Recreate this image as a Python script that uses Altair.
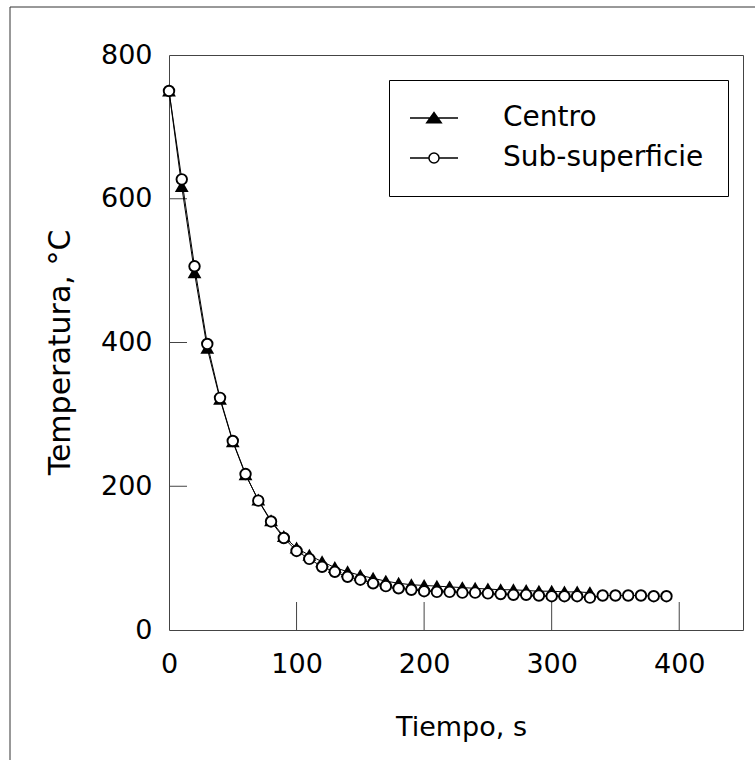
import altair as alt
import pandas as pd

# ---------------- data ----------------
t_sub = list(range(0, 400, 10))
sub_vals = [750, 627, 506, 398, 323, 263, 217, 180, 151, 128, 110, 99, 88, 81,
            74, 70, 65, 61, 58, 56, 54, 53, 53, 52, 52, 51, 50, 49, 49, 48,
            47, 47, 47, 45, 48, 48, 48, 48, 47, 47]
t_cen = list(range(0, 340, 10))
cen_vals = [750, 617, 497, 392, 321, 262, 216, 181, 152, 130, 114, 104, 95, 87,
            81, 76, 72, 68, 65, 63, 62, 61, 60, 59, 58, 57, 56, 56, 55, 54,
            54, 53, 53, 52]
series = ["Centro", "Sub-superficie"]
x_ticks = [0, 100, 200, 300, 400]
y_ticks = [0, 200, 400, 600, 800]
x_inner_ticks = [100, 200, 300, 400]
y_inner_ticks = [200, 400, 600]

df = pd.concat([
    pd.DataFrame({"t": t_cen, "T": cen_vals, "serie": series[0]}),
    pd.DataFrame({"t": t_sub, "T": sub_vals, "serie": series[1]}),
], ignore_index=True)

W, H = 574, 575
FONT = "DejaVu Sans"
AX = "#444444"

xs = alt.Scale(domain=[0, 450], nice=False, zero=False)
ys = alt.Scale(domain=[0, 800], nice=False, zero=False)

tri_path = "M-2,0L2,0M-0.6,0.4L0,-0.45L0.6,0.4Z"
cir_path = ("M-2,0L-0.42,0M0.42,0L2,0M-0.42,0A0.42,0.42,0,1,0,0.42,0"
            "A0.42,0.42,0,1,0,-0.42,0Z")

legend = alt.Legend(
    orient="none", legendX=220, legendY=25, padding=24,
    strokeColor="black", fillColor="white",
    labelFont=FONT, labelFontSize=28, labelColor="black", labelLimit=0,
    symbolSize=576, symbolOffset=7, labelOffset=55, rowPadding=12,
    symbolStrokeWidth=1.5,
)

xenc = alt.X("t:Q", scale=xs, axis=alt.Axis(
    values=x_ticks, title="Tiempo, s", grid=False, domain=False, ticks=False,
    tickSize=0, labelPadding=21, labelFlush=False, labelFont=FONT,
    labelFontSize=27, labelColor="black", labelFontWeight="normal",
    titleFont=FONT, titleFontSize=27, titleFontWeight="normal",
    titleColor="black", titleY=105, titleX=292, titleBaseline="alphabetic"))
yenc = alt.Y("T:Q", scale=ys, axis=alt.Axis(
    values=y_ticks, title="Temperatura, °C", grid=False, domain=False,
    ticks=False, tickSize=0, labelPadding=17, labelFlush=False, labelFont=FONT,
    labelFontSize=27, labelColor="black",
    titleFont=FONT, titleFontSize=30, titleFontWeight="normal",
    titleColor="black", titleX=-100, titleY=297, titleBaseline="alphabetic"))

lines = alt.Chart(df).mark_line(color="black", strokeWidth=1).encode(
    x=xenc, y=yenc, detail="serie:N", order="t:Q")

points = alt.Chart(df).mark_point(
    filled=True, stroke="black", strokeWidth=1.9, size=110, opacity=1
).encode(
    x=alt.X("t:Q", scale=xs),
    y=alt.Y("T:Q", scale=ys),
    shape=alt.Shape("serie:N", legend=None,
                    scale=alt.Scale(domain=series, range=["triangle-up", "circle"])),
    fill=alt.Fill("serie:N", legend=None,
                  scale=alt.Scale(domain=series, range=["black", "white"])),
)

# legend-only layer (no rows drawn): composite line+marker symbols
leg = alt.Chart(df).transform_filter("false").mark_point(
    filled=True, strokeWidth=1.5, opacity=1
).encode(
    x=alt.X("t:Q", scale=xs),
    y=alt.Y("T:Q", scale=ys),
    shape=alt.Shape("serie:N", title=None, legend=legend,
                    scale=alt.Scale(domain=series, range=[tri_path, cir_path])),
    fill=alt.Fill("serie:N", title=None, legend=legend,
                  scale=alt.Scale(domain=series, range=["black", "white"])),
    stroke=alt.Stroke("serie:N", title=None, legend=legend,
                      scale=alt.Scale(domain=series, range=["black", "black"])),
)

xt = alt.Chart(pd.DataFrame({"v": x_inner_ticks})).mark_rule(
    color=AX, strokeWidth=1).encode(
    x=alt.X("v:Q", scale=xs), y=alt.value(H), y2=alt.value(H - 28))
yt = alt.Chart(pd.DataFrame({"v": y_inner_ticks})).mark_rule(
    color=AX, strokeWidth=1).encode(
    y=alt.Y("v:Q", scale=ys), x=alt.value(0), x2=alt.value(18))

# outer figure frame (left and top edges)
frame_l = alt.Chart(pd.DataFrame({"a": [0]})).mark_rule(
    color="#333333", strokeWidth=1).encode(
    x=alt.value(-159), y=alt.value(-48), y2=alt.value(705))
frame_t = alt.Chart(pd.DataFrame({"a": [0]})).mark_rule(
    color="#333333", strokeWidth=1).encode(
    x=alt.value(-159), x2=alt.value(586), y=alt.value(-48))

chart = alt.layer(xt, yt, lines, points, leg, frame_l, frame_t).resolve_scale(
    shape="independent", fill="independent", stroke="independent"
).properties(
    width=W, height=H,
    autosize=alt.AutoSizeParams(type="none"),
    padding={"left": 169, "top": 55, "right": 12, "bottom": 130},
    background="white",
).configure_view(stroke=AX, strokeWidth=1)

chart.save("out.html", embed_options={"renderer": "svg", "actions": False})
